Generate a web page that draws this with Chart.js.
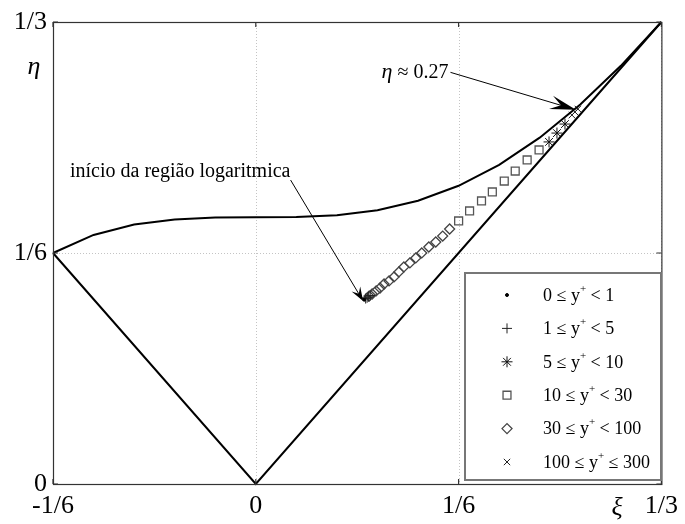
<!DOCTYPE html>
<html>
<head>
<meta charset="utf-8">
<script src="https://cdn.jsdelivr.net/npm/chart.js@4.4.0/dist/chart.umd.min.js"></script>
<style>
  html, body { margin: 0; padding: 0; background: #fff; }
</style>
</head>
<body>
<canvas id="lumley" width="685" height="524"></canvas>
<script>
const SERIF = '"Liberation Serif", "Times New Roman", serif'

// axis ticks
const xTickValues = [-1/6, 0, 1/6, 1/3]
const xTickLabels = ['-1/6', '0', '1/6', '1/3']
const yTickValues = [0, 1/6, 1/3]
const yTickLabels = ['0', '1/6', '1/3']

// two-component limit
const curveXi  = [-0.16667, -0.13333, -0.1, -0.06667, -0.03333, 0, 0.03333, 0.06667, 0.1, 0.13333, 0.16667, 0.2, 0.23333, 0.26667, 0.3, 0.33333]
const curveEta = [0.16667, 0.17971, 0.18718, 0.19090, 0.19226, 0.19245, 0.19264, 0.19398, 0.19758, 0.20440, 0.21517, 0.23030, 0.24989, 0.27380, 0.30172, 0.33333]

// axisymmetric limits
const axiXi  = [-1/6, 0, 1/3]
const axiEta = [1/6, 0, 1/3]

// profile points, one pair of arrays per y+ band
const dotXi  = [0.0891]
const dotEta = [0.1330]
const plusXi  = [0.0903, 0.0915, 0.0928, 0.0940]
const plusEta = [0.1338, 0.1344, 0.1351, 0.1360]
const starXi  = [0.2410, 0.2475, 0.2541]
const starEta = [0.2468, 0.2532, 0.2597]
const squareXi  = [0.1667, 0.1757, 0.1855, 0.1944, 0.2042, 0.2132, 0.2230, 0.2328]
const squareEta = [0.1898, 0.1970, 0.2042, 0.2107, 0.2186, 0.2258, 0.2338, 0.2410]
const diamondXi  = [0.1593, 0.1536, 0.1479, 0.1422, 0.1364, 0.1315, 0.1266, 0.1217, 0.1176, 0.1136, 0.1095, 0.1054, 0.1021, 0.0989, 0.0956, 0.0931]
const diamondEta = [0.1840, 0.1789, 0.1746, 0.1710, 0.1667, 0.1631, 0.1595, 0.1566, 0.1530, 0.1494, 0.1465, 0.1443, 0.1414, 0.1393, 0.1371, 0.1356]
const crossXi  = [0.2598, 0.2623, 0.2647]
const crossEta = [0.2662, 0.2684, 0.2706]

const bandLabels = ['0 ≤ y+ < 1', '1 ≤ y+ < 5', '5 ≤ y+ < 10', '10 ≤ y+ < 30', '30 ≤ y+ < 100', '100 ≤ y+ ≤ 300']

const zip = (xs, ys) => xs.map((v, i) => ({ x: v, y: ys[i] }))

const boundary = (xs, ys) => ({
  data: zip(xs, ys),
  showLine: true,
  borderColor: '#000',
  borderWidth: 2,
  pointRadius: 0,
  clip: false
})

const band = (label, xs, ys, style, radius, color, width) => ({
  label,
  data: zip(xs, ys),
  showLine: false,
  pointStyle: style,
  pointRadius: radius,
  pointBorderColor: color,
  pointBackgroundColor: style === 'circle' ? color : 'rgba(0,0,0,0)',
  pointBorderWidth: width,
  legend: true
})

const datasets = [
  boundary(curveXi, curveEta),
  boundary(axiXi, axiEta),
  band(bandLabels[0], dotXi, dotEta, 'circle', 1.5, '#000', 1),
  band(bandLabels[1], plusXi, plusEta, 'cross', 5, '#222', 1),
  band(bandLabels[2], starXi, starEta, 'star', 5.5, '#111', 1),
  band(bandLabels[3], squareXi, squareEta, 'rect', 5.6, '#555', 1.3),
  band(bandLabels[4], diamondXi, diamondEta, 'rectRot', 5, '#444', 1.3),
  band(bandLabels[5], crossXi, crossEta, 'crossRot', 4.5, '#222', 1)
]

// annotation anchors in data units
const logNote = { text: 'início da região logaritmica', from: [0.0286, 0.2193], to: [0.0882, 0.1320] }
const peakNote = { from: [0.1600, 0.2970], to: [0.2631, 0.2700] }

function arrow(ctx, x0, y0, x1, y1, len, half) {
  const a = Math.atan2(y1 - y0, x1 - x0)
  const c = Math.cos(a), s = Math.sin(a)
  ctx.beginPath()
  ctx.moveTo(x0, y0)
  ctx.lineTo(x1 - c * len * 0.6, y1 - s * len * 0.6)
  ctx.stroke()
  ctx.beginPath()
  ctx.moveTo(x1, y1)
  ctx.lineTo(x1 - c * len - s * half, y1 - s * len + c * half)
  ctx.lineTo(x1 - c * len * 0.6, y1 - s * len * 0.6)
  ctx.lineTo(x1 - c * len + s * half, y1 - s * len - c * half)
  ctx.closePath()
  ctx.fill()
}

function bandText(ctx, label, x, y) {
  const [pre, post] = label.split('y+')
  ctx.font = '18px ' + SERIF
  ctx.fillText(pre + 'y', x, y)
  x += ctx.measureText(pre + 'y').width
  ctx.font = '11px ' + SERIF
  ctx.fillText('+', x, y - 7)
  x += ctx.measureText('+').width
  ctx.font = '18px ' + SERIF
  ctx.fillText(post, x, y)
}

const decor = {
  id: 'decor',
  beforeDatasetsDraw(chart) {
    const { ctx, chartArea: a, scales: { x, y } } = chart
    ctx.save()
    ctx.strokeStyle = '#c4c4c4'
    ctx.lineWidth = 1
    ctx.setLineDash([1, 2])
    xTickValues.forEach(v => {
      const px = Math.round(x.getPixelForValue(v)) + 0.5
      ctx.beginPath(); ctx.moveTo(px, a.top); ctx.lineTo(px, a.bottom); ctx.stroke()
    })
    yTickValues.forEach(v => {
      const py = Math.round(y.getPixelForValue(v)) + 0.5
      ctx.beginPath(); ctx.moveTo(a.left, py); ctx.lineTo(a.right, py); ctx.stroke()
    })
    ctx.restore()
  },
  afterDatasetsDraw(chart) {
    const { ctx, chartArea: a, scales: { x, y } } = chart
    ctx.save()

    // frame and inward ticks
    ctx.strokeStyle = '#333'
    ctx.lineWidth = 1.2
    ctx.strokeRect(a.left + 0.5, a.top + 0.5, a.right - a.left, a.bottom - a.top)
    ctx.beginPath()
    xTickValues.forEach(v => {
      const px = x.getPixelForValue(v)
      ctx.moveTo(px, a.bottom); ctx.lineTo(px, a.bottom - 5)
      ctx.moveTo(px, a.top); ctx.lineTo(px, a.top + 5)
    })
    yTickValues.forEach(v => {
      const py = y.getPixelForValue(v)
      ctx.moveTo(a.left, py); ctx.lineTo(a.left + 5, py)
      ctx.moveTo(a.right, py); ctx.lineTo(a.right - 5, py)
    })
    ctx.stroke()

    // axis symbols
    ctx.fillStyle = '#000'
    ctx.font = 'italic 26px ' + SERIF
    ctx.textAlign = 'center'
    ctx.textBaseline = 'middle'
    ctx.fillText('η', 34, 67)
    ctx.fillText('ξ', 617, 508)

    // notes
    ctx.strokeStyle = '#000'
    ctx.lineWidth = 1
    ctx.textBaseline = 'alphabetic'
    ctx.textAlign = 'left'
    ctx.font = '20px ' + SERIF
    let fx = x.getPixelForValue(logNote.from[0]), fy = y.getPixelForValue(logNote.from[1])
    ctx.fillText(logNote.text, 70, fy - 3)
    arrow(ctx, fx, fy, x.getPixelForValue(logNote.to[0]), y.getPixelForValue(logNote.to[1]), 14, 5)

    fx = x.getPixelForValue(peakNote.from[0]); fy = y.getPixelForValue(peakNote.from[1])
    ctx.textAlign = 'right'
    ctx.font = '20px ' + SERIF
    const rest = ' ≈ 0.27'
    const restW = ctx.measureText(rest).width
    ctx.fillText(rest, fx - 2, fy + 6)
    ctx.font = 'italic 22px ' + SERIF
    ctx.fillText('η', fx - 2 - restW, fy + 6)
    arrow(ctx, fx, fy, x.getPixelForValue(peakNote.to[0]), y.getPixelForValue(peakNote.to[1]), 26, 7)

    // legend
    const lx = 465, ly = 273, lw = 196, lh = 207
    ctx.fillStyle = '#fff'
    ctx.fillRect(lx, ly, lw, lh)
    ctx.strokeStyle = '#777'
    ctx.lineWidth = 2
    ctx.strokeRect(lx, ly, lw, lh)
    ctx.fillStyle = '#000'
    ctx.textAlign = 'left'
    ctx.textBaseline = 'middle'
    chart.data.datasets.filter(d => d.legend).forEach((d, i) => {
      const cy = 295 + i * 33.4
      ctx.save()
      ctx.strokeStyle = d.pointBorderColor
      ctx.fillStyle = d.pointBackgroundColor
      ctx.lineWidth = d.pointBorderWidth
      Chart.helpers.drawPoint(ctx, { pointStyle: d.pointStyle, radius: d.pointRadius, rotation: 0, borderWidth: d.pointBorderWidth }, 507, cy)
      ctx.restore()
      bandText(ctx, d.label, 543, cy + 1)
    })
    ctx.restore()
  }
}

const axis = (min, values, labels, pad, extra) => Object.assign({
  type: 'linear',
  min,
  max: 1/3,
  grid: { display: false, drawTicks: false },
  border: { display: false },
  afterBuildTicks: s => { s.ticks = values.map(v => ({ value: v })) },
  ticks: {
    autoSkip: false,
    maxRotation: 0,
    padding: pad,
    color: '#000',
    font: { family: SERIF, size: 26 },
    callback: (v, i) => labels[i]
  }
}, extra)

new Chart(document.getElementById('lumley'), {
  type: 'scatter',
  data: { datasets },
  options: {
    responsive: false,
    animation: false,
    devicePixelRatio: 1,
    layout: { padding: { top: 22, right: 20, left: 0, bottom: 0 } },
    plugins: { legend: { display: false }, tooltip: { enabled: false } },
    scales: {
      x: axis(-1/6, xTickValues, xTickLabels, 7, { position: 'bottom', afterFit: s => { s.height = 40 } }),
      y: axis(0, yTickValues, yTickLabels, 6, { position: 'left', afterFit: s => { s.width = 53 } })
    }
  },
  plugins: [decor]
})
</script>
</body>
</html>
